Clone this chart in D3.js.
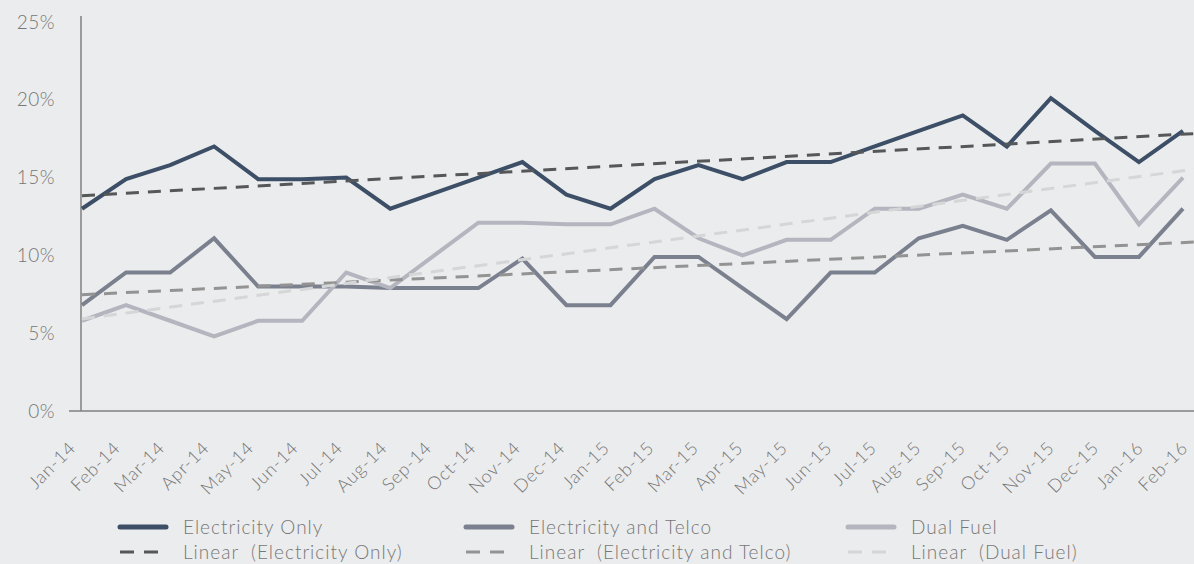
<!DOCTYPE html>
<html>
<head>
<meta charset="utf-8">
<script src="https://cdn.jsdelivr.net/npm/d3@7"></script>
<style>
  body { margin: 0; background: #ebeced; }
  svg { display: block; }
  text { font-family: Lato, "Open Sans", sans-serif; font-weight: 300; fill: #777777; white-space: pre; }
</style>
</head>
<body>
<svg id="chart" width="1194" height="564"></svg>
<script>
// months on the category axis
var months = ["Jan-14","Feb-14","Mar-14","Apr-14","May-14","Jun-14","Jul-14","Aug-14","Sep-14","Oct-14","Nov-14","Dec-14",
  "Jan-15","Feb-15","Mar-15","Apr-15","May-15","Jun-15","Jul-15","Aug-15","Sep-15","Oct-15","Nov-15","Dec-15",
  "Jan-16","Feb-16"];

// values in %
var elecOnly = [13, 14.9, 15.8, 17, 14.9, 14.9, 15, 13, 14, 15, 16, 13.9,
  13, 14.9, 15.8, 14.9, 16, 16, 17, 18, 19, 17, 20.1, 18, 16, 18];
var elecTelco = [6.8, 8.9, 8.9, 11.1, 8, 8, 8, 7.9, 7.9, 7.9, 9.8, 6.8,
  6.8, 9.9, 9.9, 7.9, 5.9, 8.9, 8.9, 11.1, 11.9, 11, 12.9, 9.9, 9.9, 13];
var dualFuel = [5.8, 6.8, 5.8, 4.8, 5.8, 5.8, 8.9, 7.9, 10, 12.1, 12.1, 12,
  12, 13, 11.1, 10, 11, 11, 13, 13, 13.9, 13, 15.9, 15.9, 12, 15];

var yTicks = [0, 5, 10, 15, 20, 25];

var seriesNames = ["Electricity Only", "Electricity and Telco", "Dual Fuel"];

var ctx = {
  colors: ["#3c4f66", "#7b808f", "#b4b5be"],
  trendColors: ["#555759", "#939393", "#d5d6d7"]
};

var svg = d3.select("#chart");

var x = d3.scalePoint().domain(months).range([82, 1183]);
// the rotated labels sit on a slightly wider spacing than the points
var xLabel = d3.scalePoint().domain(months).range([77, 1189]);
var y = d3.scaleLinear().domain([0, 25]).range([411, 22]);

// axes lines
svg.append("line").attr("x1", 81).attr("x2", 81).attr("y1", 16).attr("y2", 411)
  .attr("stroke", "#808080").attr("stroke-width", 1.5);
svg.append("line").attr("x1", 69).attr("x2", 1194).attr("y1", 411).attr("y2", 411)
  .attr("stroke", "#808080").attr("stroke-width", 1.5);

// y labels
svg.append("g").selectAll("text").data(yTicks).enter().append("text")
  .attr("x", 55).attr("y", d => y(d)).attr("dy", "0.35em")
  .attr("text-anchor", "end").style("font-size", "19px").style("letter-spacing", "0.5px")
  .text(d => d + "%");

// x labels, rotated
svg.append("g").selectAll("text").data(months).enter().append("text")
  .attr("text-anchor", "end").style("font-size", "18px").style("letter-spacing", "0.8px")
  .attr("transform", d => "translate(" + xLabel(d) + ",449) rotate(-45)")
  .text(d => d);

// least squares fit for the linear trendlines
function linearFit(vals) {
  var n = vals.length, sx = 0, sy = 0, sxy = 0, sxx = 0;
  vals.forEach((v, i) => { sx += i; sy += v; sxy += i * v; sxx += i * i; });
  var b = (n * sxy - sx * sy) / (n * sxx - sx * sx);
  var a = (sy - b * sx) / n;
  return [a, b];
}

var step = x.step();
var allSeries = [elecOnly, elecTelco, dualFuel];

var plot = svg.append("g");
var line = d3.line().x((d, i) => x(months[i])).y(d => y(d));

// series lines first, trendlines on top
allSeries.forEach((vals, k) => {
  plot.append("path").datum(vals)
    .attr("d", line)
    .attr("fill", "none")
    .attr("stroke", ctx.colors[k])
    .attr("stroke-width", 4)
    .attr("stroke-linejoin", "miter");
});

allSeries.forEach((vals, k) => {
  var fit = linearFit(vals);
  var i0 = 0, i1 = months.length - 1 + 0.3;
  plot.append("line")
    .attr("x1", x(months[0]) + i0 * step).attr("y1", y(fit[0] + fit[1] * i0))
    .attr("x2", x(months[0]) + i1 * step).attr("y2", y(fit[0] + fit[1] * i1))
    .attr("stroke", ctx.trendColors[k])
    .attr("stroke-width", 3)
    .attr("stroke-dasharray", "13,9");
});

// legend
var legendX = [120, 466, 848];
var legend = svg.append("g");
seriesNames.forEach((name, k) => {
  legend.append("line").attr("x1", legendX[k]).attr("x2", legendX[k] + 46)
    .attr("y1", 527).attr("y2", 527)
    .attr("stroke", ctx.colors[k]).attr("stroke-width", 5).attr("stroke-linecap", "round");
  legend.append("text").attr("x", legendX[k] + 63).attr("y", 527).attr("dy", "0.35em")
    .style("font-size", "19px").style("letter-spacing", "1px").text(name);
  legend.append("line").attr("x1", legendX[k]).attr("x2", legendX[k] + 38)
    .attr("y1", 552).attr("y2", 552)
    .attr("stroke", ctx.trendColors[k]).attr("stroke-width", 3).attr("stroke-dasharray", "14,10");
  legend.append("text").attr("x", legendX[k] + 63).attr("y", 552).attr("dy", "0.35em")
    .style("font-size", "19px").style("letter-spacing", "1px").text("Linear  (" + name + ")");
});
</script>
</body>
</html>
